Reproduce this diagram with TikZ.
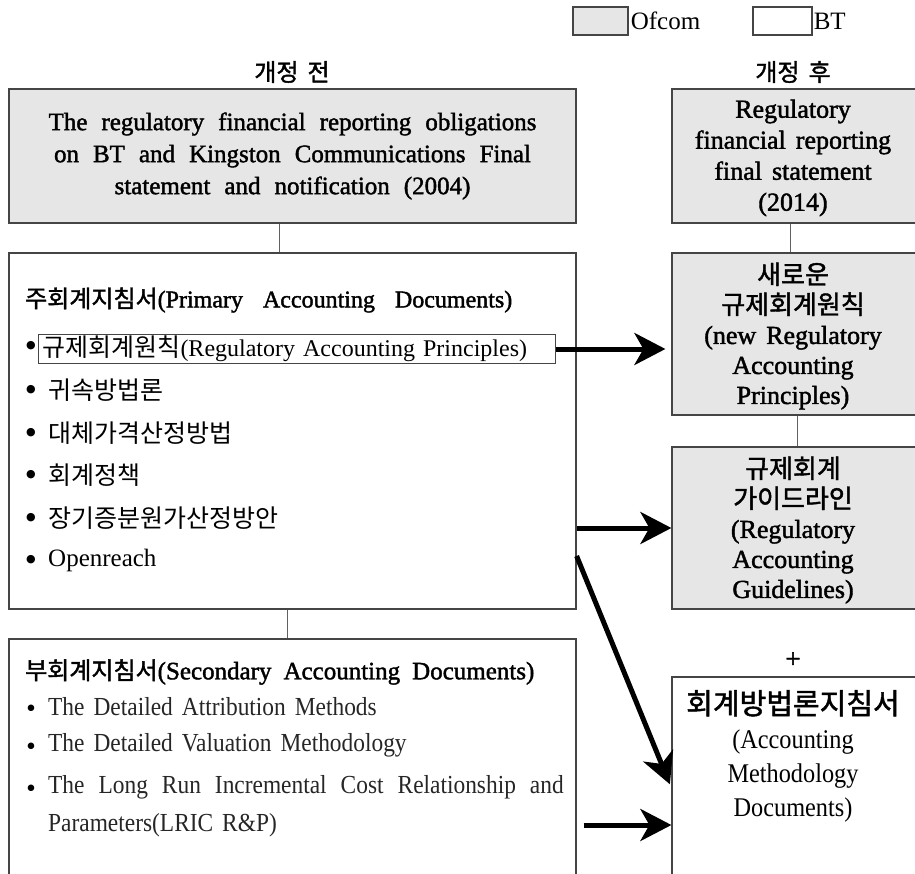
\documentclass[tikz,border=0pt]{standalone}
\usepackage{fontspec}
\setmainfont{Liberation Serif}
\newfontfamily\kr{Noto Sans CJK KR}
\newfontfamily\krb[FakeBold=1.6]{Noto Sans CJK KR}
\newfontfamily\sbf[FakeBold=1.6]{Liberation Serif}
\newfontfamily\narrow[FakeStretch=0.9]{Liberation Serif}
\newfontfamily\dv{DejaVu Sans}
\usetikzlibrary{arrows.meta,calc}
\definecolor{ofgray}{HTML}{E6E6E6}
\definecolor{edgec}{HTML}{454545}
\newcommand{\fs}[2]{\fontsize{#1}{#2}\selectfont}
\newcommand{\wsp}[1]{\spaceskip=#1 plus 0pt minus 0pt\relax}
\begin{document}
\begin{tikzpicture}[x=1pt,y=-1pt,
  box/.style={draw=edgec, line width=1.2pt, inner sep=0pt},
  ofbox/.style={box, fill=ofgray},
  link/.style={draw=edgec!85, line width=1pt},
  bigarrow/.style={line width=5pt, -{Stealth[length=31pt,width=32pt,inset=9pt]}},
  txt/.style={inner sep=0pt, anchor=west, text=black},
  item/.style={txt, font=\fs{25}{25}\wsp{9pt}},
  sitem/.style={txt, font=\narrow\fs{26}{26}\wsp{9pt}, text=black!85},
  bul/.style={inner sep=0pt, font=\dv\fs{11}{11}},
  sbul/.style={inner sep=0pt, font=\dv\fs{8.5}{9}},
  rtitle/.style={align=center, font=\sbf\fs{26}{31}\wsp{10pt}},
]
\useasboundingbox (0,0) rectangle (915,874);
\clip (0,0) rectangle (915,874);

% legend
\node[ofbox, minimum width=55pt, minimum height=28pt] (lg1) at (600.5,21) {};
\node[txt, font=\fs{25}{25}] (lg1t) at ([xshift=2pt]lg1.east) {Ofcom};
\node[box, minimum width=59pt, minimum height=28pt] (lg2) at (782.5,21) {};
\node[txt, font=\fs{25}{25}] (lg2t) at ([xshift=1pt]lg2.east) {BT};

% headers
\node[inner sep=0pt, font=\krb\fs{24}{24}] (h1) at (292,72) {개정\hspace{9pt}전};
\node[inner sep=0pt, font=\krb\fs{24}{24}] (h2) at (793,72) {개정\hspace{9pt}후};

% left column
\node[ofbox, minimum width=567pt, minimum height=134pt, align=center,
      font=\sbf\fs{25}{32}\wsp{14pt}] (tl) at (292.5,156)
  {The regulatory financial reporting obligations\\
   on BT and Kingston Communications Final\\
   statement and notification (2004)};
\node[box, minimum width=567pt, minimum height=356pt] (pr) at (292.5,431) {};
\node[box, minimum width=567pt, minimum height=261pt] (sd) at (292.5,769.5) {};

% right column
\node[ofbox, minimum width=246pt, minimum height=134pt] (rf) at (795,156) {};
\node[rtitle] (rft) at (793,158) {Regulatory\\financial reporting\\final statement\\(2014)};
\node[ofbox, minimum width=246pt, minimum height=162pt] (nrp) at (795,334) {};
\node[rtitle, font=\sbf\fs{26}{30}\wsp{10pt}] (nrpt) at (793,336) {{\krb 새로운}\\{\krb 규제회계원칙}\\(new Regulatory\\Accounting\\Principles)};
\node[ofbox, minimum width=246pt, minimum height=162pt] (rag) at (795,528) {};
\node[rtitle, font=\sbf\fs{26}{30}\wsp{10pt}] (ragt) at (793,530) {{\krb 규제회계}\\{\krb 가이드라인}\\(Regulatory\\Accounting\\Guidelines)};
\node[inner sep=0pt, font=\sbf\fs{27}{27}] (plus) at (793,660) {+};
\node[box, minimum width=246pt, minimum height=223pt] (am) at (795,788.5) {};
\node[align=center, inner sep=0pt, font=\narrow\fs{27}{34}] (amt) at (793,756)
  {{\krb\fs{29}{34}회계방법론지침서}\\(Accounting\\Methodology\\Documents)};

% connectors
\coordinate (cx1) at (279,0);
\coordinate (cx2) at (287,0);
\coordinate (cx3) at (790,0);
\coordinate (cx4) at (797,0);
\draw[link] (tl.south -| cx1) -- (pr.north -| cx1);
\draw[link] (pr.south -| cx2) -- (sd.north -| cx2);
\draw[link] (rf.south -| cx3) -- (nrp.north -| cx3);
\draw[link] (nrp.south -| cx4) -- (rag.north -| cx4);

% primary documents
\node[txt, font=\sbf\fs{24}{24}\wsp{20pt}] (ph) at (25,300)
  {{\krb 주회계지침서}(Primary Accounting Documents)};
\node[bul] (b1) at (31,346) {●};
\node[txt, draw=edgec, line width=1pt, inner xsep=4pt, minimum height=28pt,
      text width=509pt, align=left, font=\fs{24}{24}\wsp{13pt}] (rap) at (38,349)
  {{\kr\fs{25}{25}규제회계원칙}(Regulatory Accounting Principles)};
\node[bul] (b2) at (31,390) {●};
\node[item] (i2) at (48,390) {\kr 귀속방법론};
\node[bul] (b3) at (31,433) {●};
\node[item] (i3) at (48,433) {\kr 대체가격산정방법};
\node[bul] (b4) at (31,475) {●};
\node[item] (i4) at (48,475) {\kr 회계정책};
\node[bul] (b5) at (31,518) {●};
\node[item] (i5) at (48,518) {\kr 장기증분원가산정방안};
\node[bul] (b6) at (31,560) {●};
\node[item, font=\fs{25}{25}] (i6) at (48,560) {Openreach};

% secondary documents
\node[txt, font=\sbf\fs{25}{25}\wsp{12pt}] (sh) at (25,672)
  {{\krb\fs{24}{24}부회계지침서}(Secondary Accounting Documents)};
\node[sbul] (s1b) at (31,708) {●};
\node[sitem] (s1) at (48,707) {The Detailed Attribution Methods};
\node[sbul] (s2b) at (31,746) {●};
\node[sitem] (s2) at (48,745) {The Detailed Valuation Methodology};
\node[sbul] (s3b) at (31,788) {●};
\node[sitem, font=\narrow\fs{26}{26}\wsp{14pt}] (s3) at (48,787) {The Long Run Incremental Cost Relationship and};
\node[sitem] (s4) at (48,825) {Parameters(LRIC R\&P)};

% arrows
\coordinate (a2) at (0,528);
\coordinate (a3s) at (0,556);
\coordinate (a3e) at (0,788);
\coordinate (a4) at (0,825);
\draw[bigarrow, shorten >=6pt] (rap.east) -- (rap.east -| nrp.west);
\draw[bigarrow] (pr.east |- a2) -- (rag.west |- a2);
\draw[bigarrow, shorten >=4pt] (pr.east |- a3s) -- (am.west |- a3e);
\draw[bigarrow, shorten <=7pt] (sd.east |- a4) -- (am.west |- a4);
\end{tikzpicture}
\end{document}
